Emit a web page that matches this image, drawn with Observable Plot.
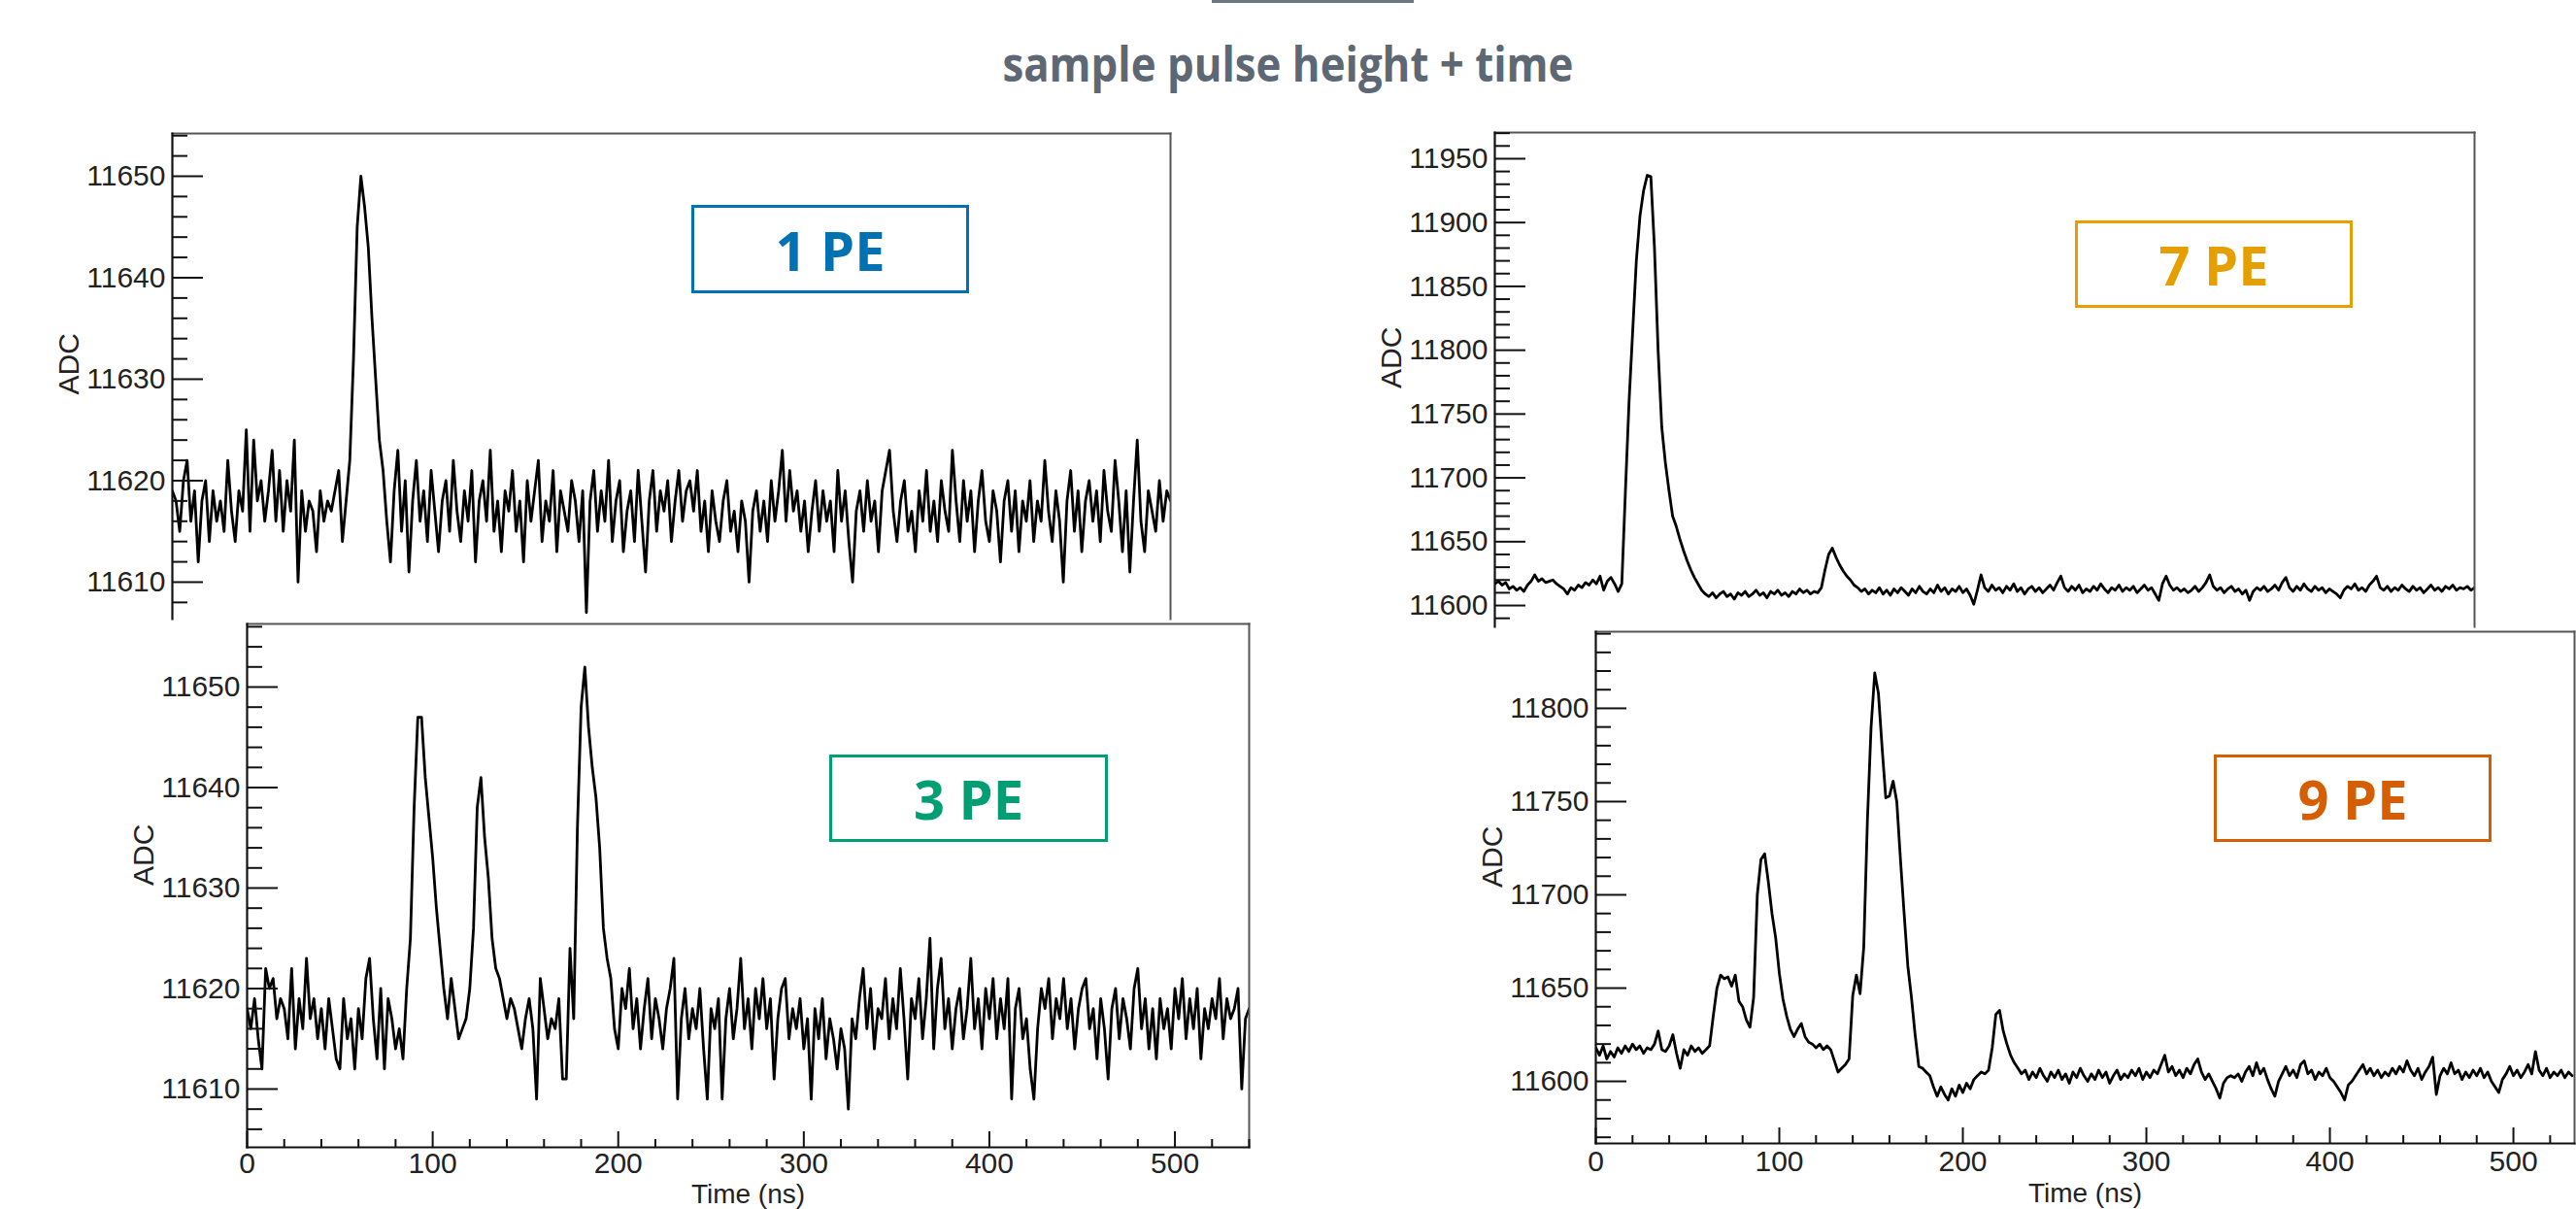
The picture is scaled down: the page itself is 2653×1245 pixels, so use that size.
<!DOCTYPE html>
<html>
<head>
<meta charset="utf-8">
<script src="https://cdn.jsdelivr.net/npm/d3@7"></script>
<script src="https://cdn.jsdelivr.net/npm/@observablehq/plot@0.6"></script>
<style>
html, body { margin: 0; padding: 0; background: #fff; overflow: hidden; }
#page { position: relative; width: 2653px; height: 1245px; overflow: hidden; background: #fff; }
.panel { position: absolute; }
.title { position: absolute; left: 0; width: 2653px; top: 40px; text-align: center;
  font-family: "Open Sans", sans-serif; font-weight: 700; font-size: 50px; line-height: 50px; color: #5d6874;
  transform: scaleX(0.876); transform-origin: 1326px 0; }
.topbar { position: absolute; left: 1248px; top: 0; width: 208px; height: 3px; background: #6b7682; }
.pe { position: absolute; box-sizing: border-box; border: 3px solid; display: flex; align-items: center;
  justify-content: center; font-family: "Open Sans", sans-serif; font-weight: 700; font-size: 56px; }
</style>
</head>
<body>
<div id="page">
  <div class="topbar"></div>
  <div class="title">sample pulse height + time</div>
</div>
<script>
// ---- data (ADC samples every dt ns) ----
const dt = 2;
const timeTicks = [0, 100, 200, 300, 400, 500];
const adcTicks1 = [11610, 11620, 11630, 11640, 11650];
const adcTicks3 = [11610, 11620, 11630, 11640, 11650];
const adcTicks7 = [11600, 11650, 11700, 11750, 11800, 11850, 11900, 11950];
const adcTicks9 = [11600, 11650, 11700, 11750, 11800];
const peLabels = ["1 PE", "3 PE", "7 PE", "9 PE"];
const peColors = ["#0072B2", "#009E73", "#E69F00", "#D55E00"];

const pe1 = [
11619,11618,11615,11620,11622,11616,11619,11612,11618,11620,
11614,11619,11616,11618,11615,11622,11617,11614,11619,11617,
11625,11615,11624,11618,11620,11616,11619,11623,11616,11621,
11615,11620,11617,11624,11610,11619,11615,11618,11617,11613,
11619,11616,11618,11617,11619,11621,11614,11618,11622,11632,
11645,11650,11647,11643,11636,11630,11624,11621,11616,11612,
11619,11623,11615,11620,11611,11618,11622,11616,11619,11614,
11621,11617,11613,11618,11620,11615,11622,11617,11614,11619,
11616,11621,11612,11618,11620,11616,11623,11615,11618,11613,
11619,11617,11621,11615,11618,11612,11620,11616,11619,11622,
11614,11618,11616,11621,11613,11619,11617,11615,11620,11618,
11614,11619,11607,11618,11621,11615,11619,11616,11622,11614,
11618,11620,11613,11617,11619,11614,11621,11616,11611,11618,
11621,11615,11619,11617,11620,11614,11618,11621,11616,11619,
11620,11617,11621,11615,11618,11613,11619,11616,11614,11618,
11620,11615,11617,11613,11618,11616,11610,11617,11619,11615,
11618,11614,11620,11616,11619,11623,11616,11621,11617,11619,
11615,11618,11613,11617,11620,11615,11619,11616,11618,11613,
11621,11616,11619,11614,11610,11617,11619,11615,11620,11616,
11618,11613,11619,11621,11623,11617,11614,11618,11620,11615,
11617,11613,11619,11616,11621,11615,11618,11614,11620,11617,
11615,11623,11618,11614,11620,11616,11619,11613,11618,11621,
11616,11614,11619,11617,11612,11618,11620,11615,11619,11613,
11618,11616,11620,11614,11618,11616,11622,11617,11614,11619,
11616,11610,11618,11621,11615,11619,11613,11618,11620,11616,
11619,11614,11621,11617,11615,11622,11618,11613,11619,11611,
11618,11624,11616,11613,11619,11617,11615,11620,11616,11619,
11618];

const pe3 = [
11618,11616,11619,11615,11612,11622,11620,11621,11617,11619,
11618,11615,11622,11614,11619,11616,11623,11617,11619,11615,
11618,11614,11619,11616,11613,11612,11619,11615,11617,11612,
11618,11615,11621,11623,11617,11613,11620,11612,11619,11617,
11614,11616,11613,11620,11625,11638,11647,11647,11641,11637,
11633,11628,11624,11620,11617,11621,11618,11615,11616,11617,
11620,11626,11638,11641,11635,11631,11625,11622,11621,11619,
11617,11619,11618,11616,11614,11617,11619,11616,11609,11621,
11618,11615,11617,11616,11619,11611,11611,11624,11617,11636,
11648,11652,11646,11642,11639,11634,11626,11623,11621,11616,
11614,11620,11618,11622,11616,11619,11614,11618,11621,11615,
11619,11617,11614,11618,11620,11623,11609,11617,11620,11615,
11618,11616,11620,11614,11609,11618,11616,11619,11609,11617,
11620,11615,11618,11623,11616,11619,11614,11620,11617,11621,
11616,11619,11611,11617,11620,11621,11615,11618,11616,11619,
11614,11617,11609,11618,11615,11619,11613,11617,11615,11612,
11616,11614,11608,11617,11615,11619,11622,11616,11620,11614,
11618,11617,11621,11615,11619,11616,11622,11617,11611,11619,
11617,11621,11615,11619,11625,11614,11620,11623,11616,11619,
11614,11618,11620,11615,11618,11623,11616,11619,11614,11620,
11617,11621,11615,11619,11616,11621,11609,11618,11620,11615,
11617,11612,11609,11616,11620,11618,11621,11615,11619,11617,
11621,11616,11619,11614,11618,11620,11621,11616,11618,11613,
11619,11616,11611,11618,11620,11615,11619,11617,11614,11620,
11622,11616,11619,11614,11618,11613,11619,11616,11618,11614,
11620,11617,11621,11615,11619,11616,11620,11613,11618,11616,
11619,11617,11621,11615,11619,11617,11618,11620,11610,11617,
11618];

const pe7 = [
11617,11619,11616,11618,11613,11615,11612,11614,11611,11616,
11619,11624,11619,11621,11618,11619,11620,11617,11615,11613,
11609,11614,11612,11616,11614,11618,11616,11620,11617,11623,
11612,11619,11622,11617,11611,11617,11690,11760,11815,11870,
11905,11925,11937,11936,11880,11800,11740,11712,11690,11670,
11662,11652,11643,11635,11628,11622,11617,11612,11609,11607,
11610,11606,11609,11611,11607,11609,11605,11610,11608,11611,
11607,11609,11612,11608,11610,11606,11611,11609,11612,11608,
11610,11607,11611,11609,11613,11610,11612,11609,11611,11610,
11614,11628,11640,11645,11638,11632,11627,11623,11620,11616,
11614,11611,11613,11609,11612,11610,11614,11609,11612,11608,
11613,11610,11614,11611,11608,11613,11610,11615,11611,11609,
11613,11610,11616,11611,11614,11609,11613,11611,11615,11610,
11613,11608,11601,11612,11624,11614,11611,11616,11612,11614,
11610,11615,11612,11617,11611,11614,11609,11613,11615,11611,
11614,11610,11613,11616,11612,11618,11623,11614,11611,11615,
11612,11616,11610,11613,11611,11615,11612,11617,11613,11610,
11614,11612,11616,11611,11614,11612,11615,11610,11613,11616,
11612,11614,11609,11604,11617,11623,11616,11612,11614,11611,
11613,11610,11612,11615,11611,11614,11618,11624,11615,11612,
11614,11610,11613,11615,11611,11613,11609,11612,11604,11611,
11614,11612,11615,11611,11613,11616,11612,11618,11622,11614,
11611,11615,11612,11617,11613,11611,11615,11612,11614,11610,
11613,11611,11609,11606,11612,11615,11613,11617,11612,11614,
11611,11616,11619,11623,11614,11612,11615,11611,11614,11612,
11616,11613,11611,11615,11612,11614,11610,11613,11616,11612,
11614,11611,11615,11613,11616,11612,11614,11613,11615,11612,
11614];

const pe9 = [
11618,11614,11619,11612,11616,11613,11618,11615,11619,11616,
11620,11617,11619,11615,11618,11617,11620,11627,11617,11616,
11619,11625,11615,11607,11617,11614,11619,11616,11618,11615,
11617,11619,11635,11650,11657,11655,11656,11651,11657,11643,
11640,11633,11629,11645,11700,11719,11722,11707,11690,11677,
11658,11644,11635,11628,11624,11628,11631,11624,11621,11620,
11618,11620,11617,11619,11617,11611,11605,11607,11609,11612,
11646,11657,11647,11672,11740,11790,11819,11808,11779,11752,
11753,11761,11750,11719,11690,11662,11645,11625,11608,11607,
11605,11603,11597,11592,11597,11593,11590,11596,11592,11598,
11594,11599,11596,11601,11603,11605,11604,11606,11618,11636,
11638,11627,11620,11614,11610,11607,11604,11606,11601,11605,
11602,11607,11603,11600,11605,11602,11606,11601,11604,11599,
11605,11602,11607,11603,11600,11604,11601,11606,11602,11605,
11599,11603,11606,11601,11604,11602,11606,11603,11607,11601,
11605,11602,11606,11604,11609,11614,11605,11608,11603,11606,
11602,11607,11604,11609,11612,11605,11601,11604,11600,11596,
11591,11599,11602,11603,11602,11604,11600,11605,11608,11603,
11610,11604,11607,11601,11596,11592,11600,11604,11608,11603,
11606,11602,11609,11611,11604,11606,11601,11605,11603,11607,
11602,11600,11597,11594,11590,11598,11600,11603,11606,11609,
11604,11607,11603,11606,11602,11605,11603,11607,11604,11608,
11605,11611,11606,11603,11607,11601,11605,11608,11613,11593,
11603,11607,11604,11610,11604,11606,11601,11605,11602,11606,
11603,11607,11602,11605,11600,11597,11594,11601,11604,11608,
11603,11606,11602,11605,11609,11604,11616,11606,11603,11607,
11602,11605,11603,11606,11602,11605,11603];

// ---- layout ----
const page = document.getElementById("page");
const FONT = "'Liberation Sans', Arial, Helvetica, sans-serif";

function minorsFor(majors, step, lo, hi) {
  const out = [];
  for (let v = Math.ceil(lo / step) * step; v <= hi; v += step) {
    if (!majors.includes(v)) out.push(v);
  }
  return out;
}

function panel(cfg) {
  const {values, xMax, yDomain, L, T, R, B, yMajors, yMinorStep, showX, adcDy, timeDy, xPad} = cfg;
  const mL = 130, mT = 4, mR = 6, mB = showX ? 1245 - B : 0;
  const rows = values.map((v, i) => ({t: i * dt, v}));
  const yMinors = minorsFor(yMajors, yMinorStep, yDomain[0], yDomain[1]);
  const marks = [
    Plot.line(rows, {x: "t", y: "v", stroke: "#000", strokeWidth: 2.8, strokeLinejoin: "round", clip: true}),
    Plot.frame({anchor: "top", stroke: "#555", strokeWidth: 2}),
    Plot.frame({anchor: "right", stroke: "#555", strokeWidth: 2}),
    Plot.frame({anchor: "left", stroke: "#111", strokeWidth: 2.2}),
    Plot.axisY({ticks: yMajors, tickSize: -32, tickFormat: () => "", stroke: "#111", strokeWidth: 2, label: null}),
    Plot.axisY({ticks: yMinors, tickSize: -16, tickFormat: () => "", stroke: "#111", strokeWidth: 2, label: null}),
    Plot.axisY({ticks: yMajors, tickSize: 0, tickPadding: 7, tickFormat: d => String(d), fill: "#222", label: null}),
    Plot.text(["ADC"], {text: d => d, frameAnchor: "left", rotate: -90, dx: -106, dy: adcDy, fontSize: 30, fill: "#222"})
  ];
  if (showX) {
    const xMinors = minorsFor(timeTicks, 20, 0, xMax);
    marks.push(
      Plot.frame({anchor: "bottom", stroke: "#111", strokeWidth: 2.2}),
      Plot.axisX({ticks: timeTicks, tickSize: -16, tickFormat: () => "", stroke: "#111", strokeWidth: 2, label: null}),
      Plot.axisX({ticks: xMinors, tickSize: -8, tickFormat: () => "", stroke: "#111", strokeWidth: 2, label: null}),
      Plot.axisX({ticks: timeTicks, tickSize: 0, tickPadding: xPad, tickFormat: d => String(d), fill: "#222", label: null}),
      Plot.text(["Time (ns)"], {text: d => d, frameAnchor: "bottom", lineAnchor: "top", dy: timeDy, fontSize: 28, fill: "#222"})
    );
  }
  const chart = Plot.plot({
    width: mL + (R - L) + mR,
    height: mT + (B - T) + mB,
    marginLeft: mL, marginTop: mT, marginRight: mR, marginBottom: mB,
    x: showX ? {domain: [0, xMax]} : {domain: [0, xMax], axis: null},
    y: {domain: yDomain, label: null},
    style: {background: "transparent", fontFamily: FONT, fontSize: "30px", color: "#222", overflow: "visible"},
    marks
  });
  chart.classList.add("panel");
  chart.style.left = (L - mL) + "px";
  chart.style.top = (T - mT) + "px";
  chart.style.maxWidth = "none";
  page.appendChild(chart);
}

panel({values: pe1, xMax: 540, yDomain: [11606.36, 11654.21], L: 177, T: 137, R: 1205, B: 637,
  yMajors: adcTicks1, yMinorStep: 2, showX: false, adcDy: 19});
panel({values: pe3, xMax: 540, yDomain: [11604.2, 11656.28], L: 254, T: 642, R: 1286, B: 1181,
  yMajors: adcTicks3, yMinorStep: 2, showX: true, adcDy: 0, timeDy: 38, xPad: 5});
panel({values: pe7, xMax: 540, yDomain: [11583.3, 11970.5], L: 1539, T: 136, R: 2548, B: 645,
  yMajors: adcTicks7, yMinorStep: 10, showX: false, adcDy: 9});
panel({values: pe9, xMax: 533.3, yDomain: [11566.7, 11841.1], L: 1643, T: 650, R: 2651, B: 1177,
  yMajors: adcTicks9, yMinorStep: 10, showX: true, adcDy: 0, timeDy: 41, xPad: 7});

// ---- PE annotation boxes ----
const boxes = [
  {left: 712, top: 211, w: 286, h: 91},
  {left: 854, top: 777, w: 287, h: 90},
  {left: 2137, top: 227, w: 286, h: 90},
  {left: 2280, top: 777, w: 286, h: 90}
];
boxes.forEach((b, i) => {
  const d = document.createElement("div");
  d.className = "pe";
  d.style.left = b.left + "px";
  d.style.top = b.top + "px";
  d.style.width = b.w + "px";
  d.style.height = b.h + "px";
  d.style.borderColor = peColors[i];
  d.style.color = peColors[i];
  d.textContent = peLabels[i];
  page.appendChild(d);
});
</script>
</body>
</html>
